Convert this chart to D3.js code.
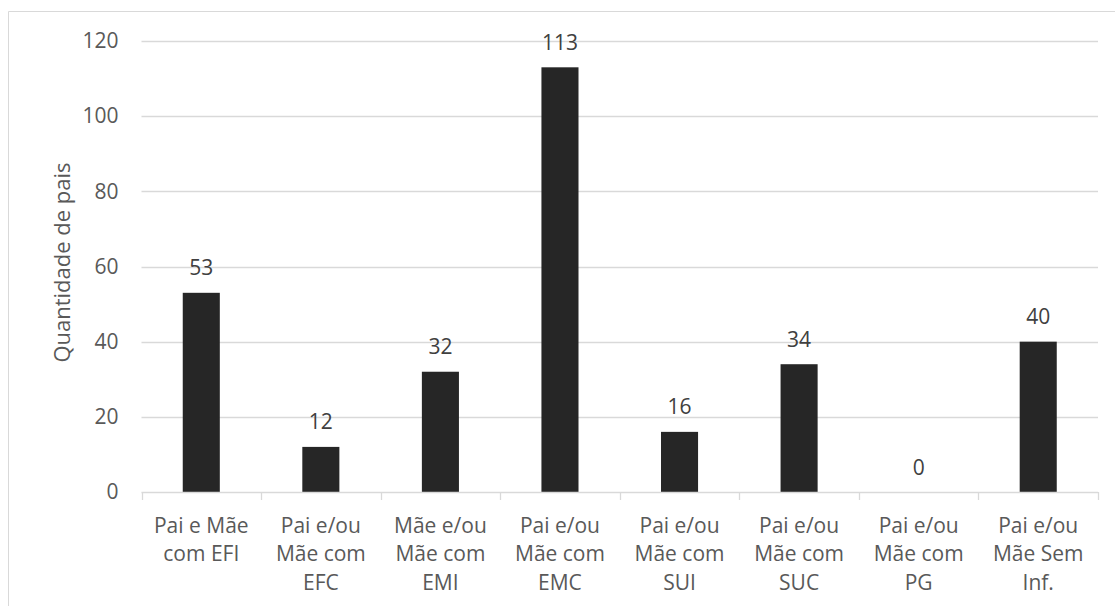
<!DOCTYPE html>
<html>
<head>
<meta charset="utf-8">
<script src="https://cdn.jsdelivr.net/npm/d3@7"></script>
<style>
  html, body { margin: 0; padding: 0; background: #fff; }
  svg { display: block; font-family: "Open Sans", sans-serif; }
</style>
</head>
<body>
<svg id="chart" width="1115" height="606"></svg>
<script>
const categories = [
  ["Pai e Mãe", "com EFI"],
  ["Pai e/ou", "Mãe com", "EFC"],
  ["Mãe e/ou", "Mãe com", "EMI"],
  ["Pai e/ou", "Mãe com", "EMC"],
  ["Pai e/ou", "Mãe com", "SUI"],
  ["Pai e/ou", "Mãe com", "SUC"],
  ["Pai e/ou", "Mãe com", "PG"],
  ["Pai e/ou", "Mãe Sem", "Inf."]
];
const values = [53, 12, 32, 113, 16, 34, 0, 40];
const yTicks = [0, 20, 40, 60, 80, 100, 120];
const yTitle = "Quantidade de pais";

(function () {
const svg = d3.select("#chart");
const pLeft = 141.5, pRight = 1098, pTop = 41, pBottom = 492;
const fs = "21px";

// chart border (only top and left visible)
svg.append("path")
  .attr("d", `M8.5,606 L8.5,11.5 L1115,11.5`)
  .attr("fill", "none").attr("stroke", "#d9d9d9").attr("stroke-width", 1);

const idx = d3.range(categories.length);
const x = d3.scaleBand().domain(idx).range([pLeft, pRight])
  .paddingInner(0.69).paddingOuter(0.345);
const y = d3.scaleLinear().domain([0, 120]).range([pBottom, pTop]);

// gridlines
svg.append("g").selectAll("line").data(yTicks.filter(d => d > 0)).join("line")
  .attr("x1", pLeft).attr("x2", pRight)
  .attr("y1", d => Math.round(y(d)) + 0.5).attr("y2", d => Math.round(y(d)) + 0.5)
  .attr("stroke", "#d9d9d9").attr("stroke-width", 1.3);

// y axis labels
const yAxis = d3.axisLeft(y).tickValues(yTicks).tickSize(0).tickPadding(23);
const gy = svg.append("g").attr("transform", `translate(${pLeft},0)`).call(yAxis);
gy.select(".domain").remove();
gy.selectAll("text").attr("fill", "#595959").style("font-size", fs)
  .style("font-family", "'Open Sans', sans-serif");

// bars
svg.append("g").selectAll("rect").data(values).join("rect")
  .attr("x", (d, i) => x(i))
  .attr("width", x.bandwidth())
  .attr("y", d => y(d))
  .attr("height", d => y(0) - y(d))
  .attr("fill", "#262626");

// x axis line + ticks
const step = x.step();
const boundaries = d3.range(categories.length + 1).map(i => pLeft + i * step);
svg.append("line")
  .attr("x1", pLeft).attr("x2", pRight)
  .attr("y1", pBottom + 0.5).attr("y2", pBottom + 0.5)
  .attr("stroke", "#d9d9d9").attr("stroke-width", 1.3);
svg.append("g").selectAll("line").data(boundaries).join("line")
  .attr("x1", d => Math.round(d) + 0.5).attr("x2", d => Math.round(d) + 0.5)
  .attr("y1", pBottom).attr("y2", pBottom + 8)
  .attr("stroke", "#d9d9d9").attr("stroke-width", 1.3);

// x category labels
const xl = svg.append("g").selectAll("text").data(categories).join("text")
  .attr("x", (d, i) => x(i) + x.bandwidth() / 2)
  .attr("y", 532.5)
  .attr("text-anchor", "middle")
  .attr("fill", "#595959")
  .style("font-size", fs);
xl.selectAll("tspan").data(d => d).join("tspan")
  .attr("x", function() { return this.parentNode.getAttribute("x"); })
  .attr("dy", (d, i) => i === 0 ? 0 : 28.5)
  .text(d => d);

// data labels
svg.append("g").selectAll("text").data(values).join("text")
  .attr("x", (d, i) => x(i) + x.bandwidth() / 2)
  .attr("y", d => y(d) - 17.5)
  .attr("text-anchor", "middle")
  .attr("fill", "#404040")
  .style("font-size", fs)
  .text(d => d);

// y title
svg.append("text")
  .attr("transform", `translate(70,${(pTop + pBottom) / 2 - 4}) rotate(-90)`)
  .attr("text-anchor", "middle")
  .attr("fill", "#595959")
  .style("font-size", "22px")
  .text(yTitle);
})();
</script>
</body>
</html>
